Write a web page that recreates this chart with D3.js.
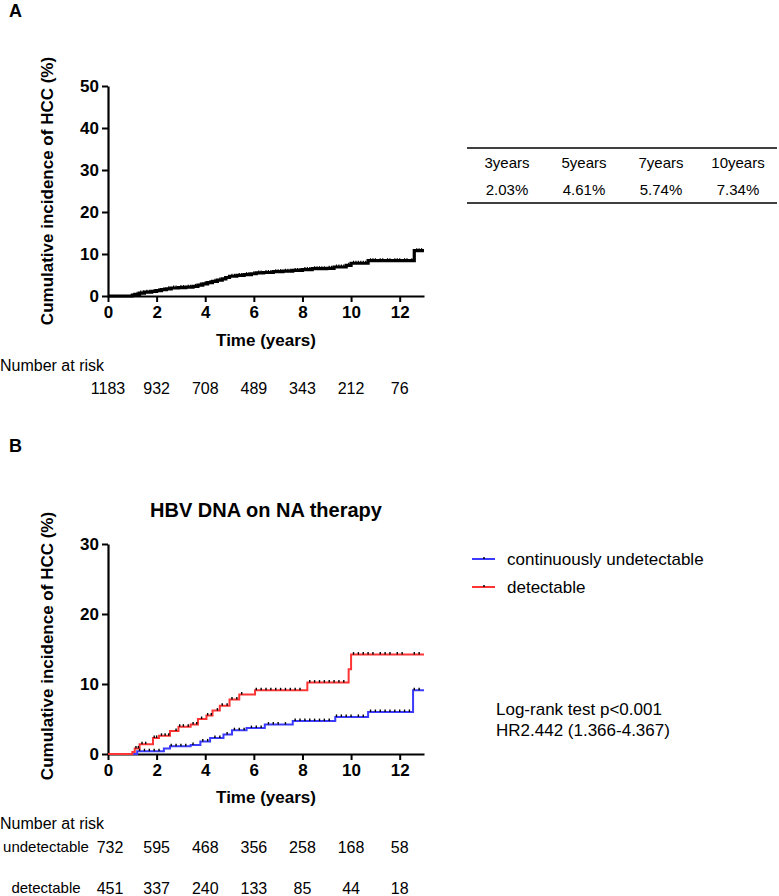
<!DOCTYPE html>
<html><head><meta charset="utf-8">
<script src="https://cdn.jsdelivr.net/npm/d3@7"></script>
<style>
body{margin:0;background:#fff;}
text{font-family:"Liberation Sans",Arial,Helvetica,sans-serif;fill:#000;}
</style></head>
<body>
<svg id="chart" width="779" height="896"></svg>
<script>
// ---------- DATA ----------
const xTicks = [0, 2, 4, 6, 8, 10, 12];
const yTicksA = [0, 10, 20, 30, 40, 50];
const yTicksB = [0, 10, 20, 30];

// Panel A: overall cumulative incidence (time in years, %)
const overallTimes = [0, 1.0, 1.1, 1.3, 1.5, 1.8, 2.0, 2.2, 2.4, 2.6, 2.9, 3.2, 3.5, 3.7, 3.9, 4.1, 4.3, 4.5, 4.7, 4.85, 5.0, 5.3, 5.6, 5.9, 6.1, 6.4, 6.8, 7.2, 7.6, 8.0, 8.4, 9.0, 9.3, 9.8, 10.0, 10.7, 12.6, 13.0];
const overallValues = [0, 0.2, 0.4, 0.7, 0.9, 1.1, 1.3, 1.5, 1.7, 1.9, 2.0, 2.1, 2.3, 2.6, 2.9, 3.2, 3.5, 3.8, 4.1, 4.4, 4.7, 4.9, 5.1, 5.3, 5.5, 5.6, 5.8, 5.9, 6.1, 6.3, 6.5, 6.6, 6.9, 7.3, 7.8, 8.4, 10.8, 10.8];
const overallCensor = [1.2, 1.35, 1.45, 1.6, 1.7, 1.9, 2.1, 2.3, 2.5, 2.7, 2.8, 3.0, 3.1, 3.3, 3.4, 3.6, 3.8, 4.0, 4.2, 4.4, 4.6, 4.8, 5.1, 5.2, 5.4, 5.5, 5.7, 5.8, 6.0, 6.2, 6.3, 6.5, 6.6, 6.7, 6.9, 7.0, 7.1, 7.3, 7.4, 7.5, 7.7, 7.8, 7.9, 8.1, 8.2, 8.3, 8.5, 8.6, 8.7, 8.8, 8.9, 9.1, 9.2, 9.4, 9.5, 9.6, 9.7, 9.9, 10.1, 10.2, 10.3, 10.4, 10.5, 10.6, 10.8, 10.9, 11.0, 11.2, 11.3, 11.5, 11.6, 11.8, 11.9, 12.0, 12.2, 12.3, 12.5, 12.7, 12.8, 12.9];

// Table (panel A)
const tableHeaders = ["3years", "5years", "7years", "10years"];
const tableValues = ["2.03%", "4.61%", "5.74%", "7.34%"];

// Panel B
const seriesNames = ["continuously undetectable", "detectable"];
const seriesColors = ["#3b3bff", "#ff3535"];
const undetTimes = [0, 1.2, 2.3, 2.55, 3.4, 3.8, 4.2, 4.75, 5.1, 5.7, 6.45, 7.6, 9.35, 10.7, 12.55, 13.0];
const undetValues = [0, 0.4, 0.8, 1.1, 1.3, 1.8, 2.3, 2.8, 3.4, 3.7, 4.2, 4.7, 5.3, 6.0, 9.1, 9.1];
const detTimes = [0, 1.0, 1.1, 1.3, 1.85, 2.1, 2.55, 2.9, 3.4, 3.7, 4.05, 4.3, 4.6, 5.0, 5.4, 6.05, 8.2, 9.9, 10.0, 13.0];
const detValues = [0, 0.3, 0.8, 1.4, 2.3, 2.6, 3.3, 3.9, 4.2, 5.0, 5.5, 6.2, 6.9, 7.8, 8.5, 9.1, 10.2, 12.1, 14.2, 14.2];
const undetCensor = [1.3, 1.5, 1.7, 1.9, 2.1, 2.6, 2.8, 3.0, 3.2, 3.5, 3.9, 4.1, 4.4, 4.6, 4.9, 5.2, 5.4, 5.6, 5.9, 6.1, 6.3, 6.6, 6.8, 7.0, 7.3, 7.7, 7.9, 8.1, 8.3, 8.5, 8.7, 8.9, 9.1, 9.4, 9.6, 9.8, 10.0, 10.3, 10.5, 10.8, 11.0, 11.2, 11.4, 11.6, 11.8, 12.0, 12.2, 12.4, 12.6, 12.8];
const detCensor = [1.15, 1.25, 1.4, 1.55, 1.9, 2.0, 2.2, 2.35, 2.5, 2.8, 2.95, 3.1, 3.3, 3.5, 3.65, 3.85, 4.1, 4.25, 4.5, 4.7, 4.9, 5.1, 5.3, 5.5, 6.1, 6.3, 6.5, 6.7, 6.9, 7.1, 7.3, 7.5, 7.7, 7.9, 8.3, 8.5, 8.7, 8.9, 9.1, 9.3, 9.5, 9.7, 10.1, 10.3, 10.5, 10.7, 10.9, 11.2, 11.4, 11.6, 11.9, 12.1, 12.6, 12.8];

// Number at risk
const riskA = [1183, 932, 708, 489, 343, 212, 76];
const riskUndet = [732, 595, 468, 356, 258, 168, 58];
const riskDet = [451, 337, 240, 133, 85, 44, 18];

const statsLines = ["Log-rank test p<0.001", "HR2.442 (1.366-4.367)"];

// ---------- DRAW ----------
const svg = d3.select("#chart");

function zip(t, v) { return t.map((d, i) => [d, v[i]]); }
function stepValue(t, v, x) { let r = v[0]; for (let i = 0; i < t.length; i++) if (t[i] <= x) r = v[i]; return r; }

function drawAxes(g, x, y, yTicks) {
  const xa = g.append("g").attr("transform", `translate(0,${y(0)})`)
    .call(d3.axisBottom(x).tickValues(xTicks).tickSize(6).tickSizeOuter(0).tickPadding(4));
  const ya = g.append("g").attr("transform", `translate(${x(0)},0)`)
    .call(d3.axisLeft(y).tickValues(yTicks).tickSize(6).tickSizeOuter(0).tickPadding(3));
  [xa, ya].forEach(a => {
    a.select(".domain").attr("stroke", "#000").attr("stroke-width", 2.2);
    a.selectAll(".tick line").attr("stroke", "#000").attr("stroke-width", 2);
    a.selectAll(".tick text").attr("font-size", 17).attr("font-weight", "bold")
      .style("font-family", '"Liberation Sans",Arial,sans-serif').attr("fill", "#000");
  });
}

function yLabel(g, cx, cy) {
  g.append("text").attr("transform", `translate(${cx},${cy}) rotate(-90)`)
    .attr("text-anchor", "middle").attr("dy", "0.35em")
    .attr("font-size", 17).attr("font-weight", "bold")
    .text("Cumulative incidence of HCC (%)");
}

function censorMarks(g, x, y, t, v, cens, color, h, w) {
  g.append("g").selectAll("line").data(cens).join("line")
    .attr("x1", d => x(d)).attr("x2", d => x(d))
    .attr("y1", d => y(stepValue(t, v, d)) - h)
    .attr("y2", d => y(stepValue(t, v, d)))
    .attr("stroke", color).attr("stroke-width", w);
}

// ---- Panel A ----
const xA = d3.scaleLinear().domain([0, 13]).range([108, 424]);
const yA = d3.scaleLinear().domain([0, 50]).range([296, 86]);
const gA = svg.append("g");
gA.append("text").attr("x", 9).attr("y", 17).attr("font-size", 18).attr("font-weight", "bold").text("A");
drawAxes(gA, xA, yA, yTicksA);
yLabel(gA, 47, 191);
gA.append("text").attr("x", 266).attr("y", 340).attr("dy", "0.35em").attr("text-anchor", "middle")
  .attr("font-size", 17).attr("font-weight", "bold").text("Time (years)");

const stepLine = (x, y) => d3.line().x(d => x(d[0])).y(d => y(d[1])).curve(d3.curveStepAfter);
gA.append("path").datum(zip(overallTimes, overallValues)).attr("d", stepLine(xA, yA))
  .attr("fill", "none").attr("stroke", "#000").attr("stroke-width", 3.2);
censorMarks(gA, xA, yA, overallTimes, overallValues, overallCensor, "#000", 2.5, 1.2);

gA.append("text").attr("x", 0).attr("y", 365).attr("dy", "0.35em").attr("font-size", 16).text("Number at risk");
gA.append("g").selectAll("text").data(riskA).join("text")
  .attr("x", (d, i) => xA(xTicks[i])).attr("y", 388).attr("dy", "0.35em")
  .attr("text-anchor", "middle").attr("font-size", 16).text(d => d);

// Table
const colX = d3.scalePoint().domain(tableHeaders).range([507, 738]);
const tg = svg.append("g");
tg.append("line").attr("x1", 467).attr("x2", 777).attr("y1", 148).attr("y2", 148).attr("stroke", "#000").attr("stroke-width", 1.5);
tg.append("line").attr("x1", 467).attr("x2", 777).attr("y1", 203).attr("y2", 203).attr("stroke", "#000").attr("stroke-width", 1.5);
tg.selectAll(".h").data(tableHeaders).join("text").attr("class", "h")
  .attr("x", d => colX(d)).attr("y", 163).attr("dy", "0.35em").attr("text-anchor", "middle").attr("font-size", 15).text(d => d);
tg.selectAll(".v").data(tableValues).join("text").attr("class", "v")
  .attr("x", (d, i) => colX(tableHeaders[i])).attr("y", 190).attr("dy", "0.35em").attr("text-anchor", "middle").attr("font-size", 15).text(d => d);

// ---- Panel B ----
const xB = d3.scaleLinear().domain([0, 13]).range([108, 424]);
const yB = d3.scaleLinear().domain([0, 30]).range([754, 544]);
const gB = svg.append("g");
gB.append("text").attr("x", 9).attr("y", 452).attr("font-size", 18).attr("font-weight", "bold").text("B");
gB.append("text").attr("x", 266).attr("y", 510).attr("dy", "0.35em").attr("text-anchor", "middle")
  .attr("font-size", 20).attr("font-weight", "bold").text("HBV DNA on NA therapy");
drawAxes(gB, xB, yB, yTicksB);
yLabel(gB, 47, 646);
gB.append("text").attr("x", 266).attr("y", 797).attr("dy", "0.35em").attr("text-anchor", "middle")
  .attr("font-size", 17).attr("font-weight", "bold").text("Time (years)");

const seriesB = [
  { t: undetTimes, v: undetValues, c: undetCensor },
  { t: detTimes, v: detValues, c: detCensor }
];
seriesB.forEach((s, i) => {
  gB.append("path").datum(zip(s.t, s.v)).attr("d", stepLine(xB, yB))
    .attr("fill", "none").attr("stroke", seriesColors[i]).attr("stroke-width", 2);
});
seriesB.forEach(s => censorMarks(gB, xB, yB, s.t, s.v, s.c, "#000", 2.5, 1.4));

// Legend
const lg = svg.append("g");
seriesNames.forEach((n, i) => {
  const ly = 559 + i * 28;
  lg.append("line").attr("x1", 472).attr("x2", 495).attr("y1", ly).attr("y2", ly)
    .attr("stroke", seriesColors[i]).attr("stroke-width", 2);
  lg.append("line").attr("x1", 484).attr("x2", 484).attr("y1", ly - 2).attr("y2", ly)
    .attr("stroke", "#000").attr("stroke-width", 1.5);
  lg.append("text").attr("x", 507).attr("y", ly).attr("dy", "0.35em").attr("font-size", 17).text(n);
});

// Stats text
svg.append("g").selectAll("text").data(statsLines).join("text")
  .attr("x", 496).attr("y", (d, i) => 709 + i * 21).attr("dy", "0.35em").attr("font-size", 17).text(d => d);

// Number at risk B
gB.append("text").attr("x", 0).attr("y", 823).attr("dy", "0.35em").attr("font-size", 16).text("Number at risk");
const riskRows = [{ label: "undetectable", vals: riskUndet, y: 847 }, { label: "detectable", vals: riskDet, y: 888 }];
riskRows.forEach(r => {
  gB.append("text").attr("x", 46).attr("y", r.y).attr("dy", "0.35em").attr("text-anchor", "middle").attr("font-size", 15).text(r.label);
  gB.append("g").selectAll("text").data(r.vals).join("text")
    .attr("x", (d, i) => xB(xTicks[i]) + (i === 0 ? 2 : 0)).attr("y", r.y).attr("dy", "0.35em")
    .attr("text-anchor", "middle").attr("font-size", 16).text(d => d);
});
</script>
</body></html>
